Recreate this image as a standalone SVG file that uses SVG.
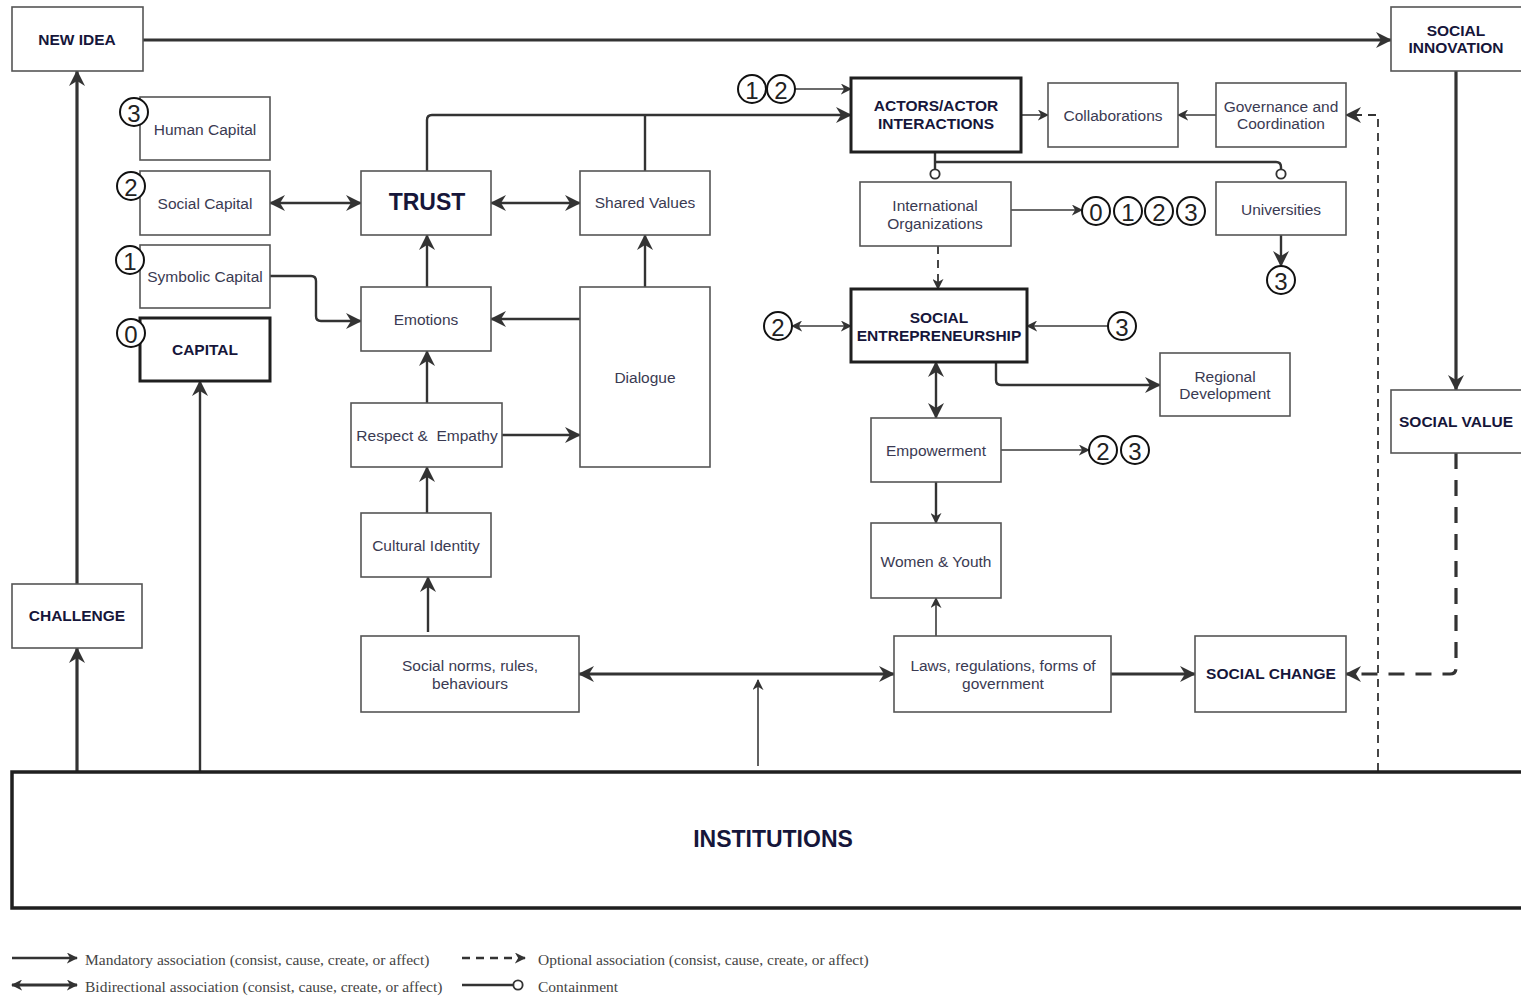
<svg xmlns="http://www.w3.org/2000/svg" width="1521" height="996" viewBox="0 0 1521 996">
  <style>
    .box { fill: #fff; stroke: #555; stroke-width: 1.6; }
    .bold-box { fill: #fff; stroke: #1f1f1f; stroke-width: 3; }
    .inst { fill: #fff; stroke: #1f1f1f; stroke-width: 3.5; }
    .t { font-family: "Liberation Sans", Arial, sans-serif; font-size: 15.5px; fill: #3a3a52; text-anchor: middle; dominant-baseline: central; }
    .h { font-family: "Liberation Sans", Arial, sans-serif; font-size: 15.5px; font-weight: bold; fill: #16163a; text-anchor: middle; dominant-baseline: central; }
    .num circle { fill: #fff; stroke: #111; stroke-width: 2; }
    .num text { font-family: "Liberation Sans", Arial, sans-serif; font-size: 24px; fill: #222; text-anchor: middle; dominant-baseline: central; }
    .thick { fill: none; stroke: #333; stroke-width: 3.2; }
    .mid { fill: none; stroke: #333; stroke-width: 2.4; }
    .thin { fill: none; stroke: #3a3a3a; stroke-width: 1.6; }
    .dash { fill: none; stroke: #333; stroke-width: 1.8; stroke-dasharray: 8 6; }
    .dash-thick { fill: none; stroke: #333; stroke-width: 3.2; stroke-dasharray: 16 11; }
    .leg { font-family: "Liberation Serif", "Times New Roman", serif; font-size: 15.5px; fill: #444; dominant-baseline: central; }
  </style>
  <defs>
    <marker id="big" viewBox="0 0 16 16" refX="15" refY="8" markerWidth="16" markerHeight="16" markerUnits="userSpaceOnUse" orient="auto-start-reverse">
      <path d="M0,0 L16,8 L0,16 L5,8 z" fill="#333"/>
    </marker>
    <marker id="small" viewBox="0 0 12 12" refX="11" refY="6" markerWidth="11" markerHeight="11" markerUnits="userSpaceOnUse" orient="auto-start-reverse">
      <path d="M0,0 L12,6 L0,12 L3.5,6 z" fill="#333"/>
    </marker>
    <marker id="ring" viewBox="0 0 14 14" refX="7" refY="7" markerWidth="13" markerHeight="13" markerUnits="userSpaceOnUse">
      <circle cx="7" cy="7" r="5" fill="#fff" stroke="#333" stroke-width="2"/>
    </marker>
  </defs>

  <rect width="1521" height="996" fill="#fff"/>

  <!-- connectors -->
  <g id="connectors">
    <path class="thick" d="M143,40 H1391" marker-end="url(#big)"/>
    <path class="thick" d="M77,584 V71" marker-end="url(#big)"/>
    <path class="thick" d="M77,771 V648" marker-end="url(#big)"/>
    <path class="mid" d="M200,771 V381" marker-end="url(#big)"/>
    <path class="thin" d="M758,766 V680" marker-end="url(#small)"/>
    <path class="thick" d="M579,674 H894" marker-start="url(#big)" marker-end="url(#big)"/>
    <path class="thick" d="M1111,674 H1195" marker-end="url(#big)"/>
    <path class="mid" d="M428,632 V577" marker-end="url(#big)"/>
    <path class="mid" d="M427,513 V467" marker-end="url(#big)"/>
    <path class="mid" d="M427,403 V351" marker-end="url(#big)"/>
    <path class="mid" d="M427,287 V235" marker-end="url(#big)"/>
    <path class="mid" d="M502,435 H580" marker-end="url(#big)"/>
    <path class="mid" d="M580,319 H491" marker-end="url(#big)"/>
    <path class="mid" d="M645,287 V235" marker-end="url(#big)"/>
    <path class="mid" d="M491,203 H580" marker-start="url(#big)" marker-end="url(#big)"/>
    <path class="mid" d="M270,203 H361" marker-start="url(#big)" marker-end="url(#big)"/>
    <path class="mid" d="M270,276 H311 Q316,276 316,281 V316 Q316,321 321,321 H361" marker-end="url(#big)"/>
    <path class="mid" d="M427,171 V120 Q427,115 432,115 H851" marker-end="url(#big)"/>
    <path class="mid" d="M645,171 V115"/>
    <path class="thin" d="M795,89 H851" marker-end="url(#small)"/>
    <path class="thin" d="M1021,115 H1048" marker-end="url(#small)"/>
    <path class="thin" d="M1216,115 H1178" marker-end="url(#small)"/>
    <path class="dash" d="M1378,771 V115 H1346" marker-end="url(#big)"/>
    <path class="thick" d="M1456,71 V390" marker-end="url(#big)"/>
    <path class="dash-thick" d="M1456,453 V668 Q1456,674 1450,674 H1346" marker-end="url(#big)"/>
    <path class="mid" d="M935,152 V174" marker-end="url(#ring)"/>
    <path class="mid" d="M935,162 H1276 Q1281,162 1281,167 V174" marker-end="url(#ring)"/>
    <path class="thin" d="M1011,210 H1082" marker-end="url(#small)"/>
    <path class="mid" d="M1281,235 V266" marker-end="url(#big)"/>
    <path class="dash" d="M938,246 V289" marker-end="url(#small)"/>
    <path class="thin" d="M792,326 H851" marker-start="url(#small)" marker-end="url(#small)"/>
    <path class="thin" d="M1108,326 H1027" marker-end="url(#small)"/>
    <path class="mid" d="M996,362 V380 Q996,385 1001,385 H1160" marker-end="url(#big)"/>
    <path class="mid" d="M936,362 V418" marker-start="url(#big)" marker-end="url(#big)"/>
    <path class="thin" d="M1001,450 H1089" marker-end="url(#small)"/>
    <path class="mid" d="M936,482 V523" marker-end="url(#small)"/>
    <path class="thin" d="M936,636 V598" marker-end="url(#small)"/>
  </g>

  <!-- nodes -->
  <g id="new-idea"><rect class="box" x="12" y="7" width="131" height="64"/><text class="h" x="77" y="39">NEW IDEA</text></g>
  <g id="social-innovation"><rect class="box" x="1391" y="7" width="132" height="64"/><text class="h" x="1456" y="30">SOCIAL</text><text class="h" x="1456" y="47">INNOVATION</text></g>
  <g id="human-capital"><rect class="box" x="140" y="97" width="130" height="63"/><text class="t" x="205" y="129">Human Capital</text></g>
  <g id="social-capital"><rect class="box" x="140" y="171" width="130" height="64"/><text class="t" x="205" y="203">Social Capital</text></g>
  <g id="symbolic-capital"><rect class="box" x="140" y="245" width="130" height="63"/><text class="t" x="205" y="276">Symbolic Capital</text></g>
  <g id="capital"><rect class="bold-box" x="140" y="318" width="130" height="63"/><text class="h" x="205" y="349">CAPITAL</text></g>
  <g id="trust"><rect class="box" x="361" y="171" width="130" height="64"/><text class="h" x="427" y="202" style="font-size:23px">TRUST</text></g>
  <g id="shared-values"><rect class="box" x="580" y="171" width="130" height="64"/><text class="t" x="645" y="202">Shared Values</text></g>
  <g id="emotions"><rect class="box" x="361" y="287" width="130" height="64"/><text class="t" x="426" y="319">Emotions</text></g>
  <g id="dialogue"><rect class="box" x="580" y="287" width="130" height="180"/><text class="t" x="645" y="377">Dialogue</text></g>
  <g id="respect-empathy"><rect class="box" x="351" y="403" width="151" height="64"/><text class="t" x="427" y="435" xml:space="preserve">Respect &amp;  Empathy</text></g>
  <g id="cultural-identity"><rect class="box" x="361" y="513" width="130" height="64"/><text class="t" x="426" y="545">Cultural Identity</text></g>
  <g id="social-norms"><rect class="box" x="361" y="636" width="218" height="76"/><text class="t" x="470" y="665">Social norms, rules,</text><text class="t" x="470" y="683">behaviours</text></g>
  <g id="laws"><rect class="box" x="894" y="636" width="217" height="76"/><text class="t" x="1003" y="665">Laws, regulations, forms of</text><text class="t" x="1003" y="683">government</text></g>
  <g id="social-change"><rect class="box" x="1195" y="636" width="151" height="76"/><text class="h" x="1271" y="673">SOCIAL CHANGE</text></g>
  <g id="actors"><rect class="bold-box" x="851" y="78" width="170" height="74"/><text class="h" x="936" y="105">ACTORS/ACTOR</text><text class="h" x="936" y="123">INTERACTIONS</text></g>
  <g id="collaborations"><rect class="box" x="1048" y="83" width="130" height="64"/><text class="t" x="1113" y="115">Collaborations</text></g>
  <g id="governance"><rect class="box" x="1216" y="83" width="130" height="64"/><text class="t" x="1281" y="106">Governance and</text><text class="t" x="1281" y="123">Coordination</text></g>
  <g id="international-orgs"><rect class="box" x="860" y="182" width="151" height="64"/><text class="t" x="935" y="205">International</text><text class="t" x="935" y="223">Organizations</text></g>
  <g id="universities"><rect class="box" x="1216" y="182" width="130" height="53"/><text class="t" x="1281" y="209">Universities</text></g>
  <g id="social-entrepreneurship"><rect class="bold-box" x="851" y="289" width="176" height="73"/><text class="h" x="939" y="317">SOCIAL</text><text class="h" x="939" y="335">ENTREPRENEURSHIP</text></g>
  <g id="regional-development"><rect class="box" x="1160" y="353" width="130" height="63"/><text class="t" x="1225" y="376">Regional</text><text class="t" x="1225" y="393">Development</text></g>
  <g id="empowerment"><rect class="box" x="871" y="418" width="130" height="64"/><text class="t" x="936" y="450">Empowerment</text></g>
  <g id="women-youth"><rect class="box" x="871" y="523" width="130" height="75"/><text class="t" x="936" y="561">Women &amp; Youth</text></g>
  <g id="social-value"><rect class="box" x="1391" y="390" width="132" height="63"/><text class="h" x="1456" y="421">SOCIAL VALUE</text></g>
  <g id="challenge"><rect class="box" x="12" y="584" width="130" height="64"/><text class="h" x="77" y="615">CHALLENGE</text></g>
  <g id="institutions"><rect class="inst" x="12" y="772" width="1520" height="136"/><text class="h" x="773" y="839" style="font-size:23px">INSTITUTIONS</text></g>

  <!-- numbered markers -->
  <g id="markers" class="num">
    <circle cx="134" cy="112" r="14"/><text x="134" y="113">3</text>
    <circle cx="131" cy="186" r="14"/><text x="131" y="187">2</text>
    <circle cx="130" cy="260" r="14"/><text x="130" y="261">1</text>
    <circle cx="131" cy="333" r="14"/><text x="131" y="334">0</text>
    <circle cx="752" cy="89" r="14"/><text x="752" y="90">1</text>
    <circle cx="781" cy="89" r="14"/><text x="781" y="90">2</text>
    <circle cx="1096" cy="211" r="14"/><text x="1096" y="212">0</text>
    <circle cx="1128" cy="211" r="14"/><text x="1128" y="212">1</text>
    <circle cx="1159" cy="211" r="14"/><text x="1159" y="212">2</text>
    <circle cx="1191" cy="211" r="14"/><text x="1191" y="212">3</text>
    <circle cx="1281" cy="280" r="14"/><text x="1281" y="281">3</text>
    <circle cx="778" cy="326" r="14"/><text x="778" y="327">2</text>
    <circle cx="1122" cy="326" r="14"/><text x="1122" y="327">3</text>
    <circle cx="1103" cy="450" r="14"/><text x="1103" y="451">2</text>
    <circle cx="1135" cy="450" r="14"/><text x="1135" y="451">3</text>
  </g>

  <!-- legend -->
  <g id="legend">
    <path class="mid" d="M12,958 H77" marker-end="url(#small)"/>
    <text class="leg" x="85" y="959">Mandatory association (consist, cause, create, or affect)</text>
    <path class="thick" d="M12,985 H77" marker-start="url(#small)" marker-end="url(#small)"/>
    <text class="leg" x="85" y="986">Bidirectional association (consist, cause, create, or affect)</text>
    <path class="mid" d="M462,958 H525" stroke-dasharray="8 6" marker-end="url(#small)"/>
    <text class="leg" x="538" y="959">Optional association (consist, cause, create, or affect)</text>
    <path class="mid" d="M462,985 H518" marker-end="url(#ring)"/>
    <text class="leg" x="538" y="986">Containment</text>
  </g>
</svg>
